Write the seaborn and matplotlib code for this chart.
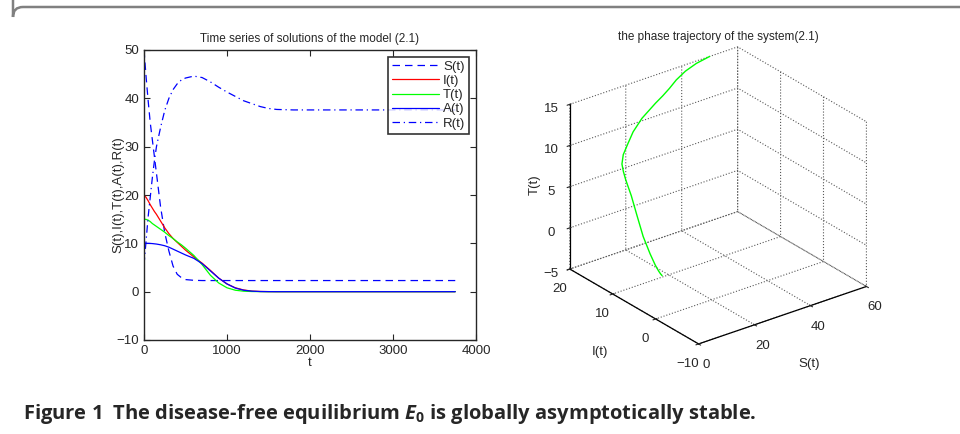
import numpy as np
import pandas as pd
import matplotlib
matplotlib.use('Agg')
import matplotlib.pyplot as plt
import seaborn as sns
from matplotlib.path import Path
from matplotlib.patches import PathPatch

# time points and solution values
t = [0, 25, 50, 75, 100, 125, 150, 200, 250, 300, 350, 400, 450, 500, 600, 700,
     800, 900, 1000, 1100, 1200, 1300, 1400, 1500, 1600, 1800, 2000, 2500, 3000, 3500, 3750]
S = [50, 44.5, 39.5, 35, 31.5, 28, 24.5, 17.5, 12.2, 8.4, 5.3, 3.6, 2.9, 2.5, 2.35, 2.3,
     2.3, 2.3, 2.3, 2.3, 2.3, 2.3, 2.3, 2.3, 2.3, 2.3, 2.3, 2.3, 2.3, 2.3, 2.3]
I = [20, 19.5, 18.8, 18.0, 17.3, 16.6, 16.0, 14.6, 13.2, 12.0, 11.0, 10.2, 9.4, 8.6, 7.2, 5.9,
     4.4, 2.8, 1.6, 0.8, 0.35, 0.12, 0.04, 0.01, 0, 0, 0, 0, 0, 0, 0]
T = [15, 14.95, 14.8, 14.5, 14.1, 13.8, 13.5, 12.9, 12.3, 11.6, 11.0, 10.3, 9.7, 9.0, 7.5, 5.6,
     3.4, 1.8, 0.8, 0.3, 0.1, 0.03, 0.01, 0, 0, 0, 0, 0, 0, 0, 0]
A = [10, 10, 10, 9.98, 9.95, 9.9, 9.85, 9.7, 9.5, 9.2, 8.8, 8.4, 8.0, 7.6, 6.9, 5.8,
     4.3, 2.8, 1.6, 0.75, 0.3, 0.1, 0.03, 0.01, 0, 0, 0, 0, 0, 0, 0]
R = [5.5, 10.5, 15.5, 19.5, 23.5, 27, 30, 34, 37.5, 40, 41.8, 43, 43.8, 44.2, 44.6, 44.3,
     43.4, 42.3, 41.3, 40.4, 39.5, 38.9, 38.3, 37.9, 37.7, 37.6, 37.6, 37.6, 37.6, 37.6, 37.6]

xticks_left = [0, 1000, 2000, 3000, 4000]
yticks_left = [-10, 0, 10, 20, 30, 40, 50]
s_ticks = [0, 20, 40, 60]
i_ticks = [-10, 0, 10, 20]
t_ticks = [-5, 0, 5, 10, 15]

df = pd.DataFrame({'t': t, 'S': S, 'I': I, 'T': T, 'A': A, 'R': R})

sns.set_style('ticks')
plt.rcParams['font.family'] = ['Liberation Sans', 'DejaVu Sans']
plt.rcParams['mathtext.fontset'] = 'custom'
plt.rcParams['mathtext.rm'] = 'Open Sans:bold'
plt.rcParams['mathtext.it'] = 'Open Sans:italic:bold'
plt.rcParams['grid.linestyle'] = ':'
plt.rcParams['grid.color'] = '0.35'
plt.rcParams['grid.linewidth'] = 0.8

W, H = 960.0, 434.0
fig = plt.figure(figsize=(9.6, 4.34), dpi=100)

########## left: time series ##########
ax = fig.add_axes([144/W, 1 - 340/H, 332/W, 290/H])
styles = [('S', 'S(t)', (0, 0, 1), (0, (6, 4))),
          ('I', 'I(t)', (1, 0, 0), '-'),
          ('T', 'T(t)', (0, 1, 0), '-'),
          ('A', 'A(t)', (0, 0, 1), '-'),
          ('R', 'R(t)', (0, 0, 1), (0, (6, 3, 1, 3)))]
for col, lab, c, ls in styles:
    sns.lineplot(data=df, x='t', y=col, ax=ax, color=c, linestyle=ls, linewidth=0.9, label=lab)
ax.set_xlim(0, 4000)
ax.set_ylim(-10, 50)
ax.set_xticks(xticks_left)
ax.set_yticks(yticks_left)
ax.tick_params(direction='in', top=True, right=True, labelsize=9.5, length=4, width=0.8)
for sp in ax.spines.values():
    sp.set_linewidth(1.0)
ax.set_xlabel('t', fontsize=9.5, labelpad=0)
ax.set_ylabel('S(t),I(t),T(t),A(t),R(t)', fontsize=9.5)
ax.yaxis.set_label_coords(-0.06, 0.5)
ax.set_title('Time series of solutions of the model (2.1)', fontsize=8.5, pad=6)
leg = ax.legend(loc='upper right', fontsize=9.5, frameon=True, fancybox=False,
                edgecolor='black', handlelength=3.6, handletextpad=0.3,
                labelspacing=0.15, borderpad=0.3, borderaxespad=0.5)
leg.get_frame().set_linewidth(1.2)

########## right: 3D phase trajectory ##########
side = 341
cx, cy = 713.5, 200
ax3 = fig.add_axes([(cx - side/2)/W, 1 - (cy + side/2)/H, side/W, side/H], projection='3d')
ax3.set_proj_type('ortho')
ax3.plot(S, I, T, color=(0, 1, 0), linewidth=1.0)
ax3.set_xlim(0, 60)
ax3.set_ylim(-10, 20)
ax3.set_zlim(-5, 15)
ax3.set_xticks(s_ticks)
ax3.set_yticks(i_ticks)
ax3.set_zticks(t_ticks)
ax3.set_box_aspect((1, 1, 0.87))
ax3.view_init(elev=26.5, azim=-127.5)
for axis in (ax3.xaxis, ax3.yaxis, ax3.zaxis):
    axis.set_pane_color((1, 1, 1, 0))
    axis.pane.set_edgecolor((1, 1, 1, 0))
    axis.line.set_color('black')
    axis.line.set_linewidth(0.9)
    axis._axinfo['grid'].update(linestyle=':', color='0.35', linewidth=0.8)
ax3.tick_params(labelsize=9.5, pad=0)
ax3.zaxis.set_rotate_label(False)
ax3.set_xlabel('S(t)', fontsize=9.5, labelpad=5)
ax3.set_ylabel('I(t)', fontsize=9.5, labelpad=5)
ax3.set_zlabel('T(t)', fontsize=9.5, rotation=90, labelpad=-6)
fig.text(718/W, 1 - 37/H, 'the phase trajectory of the system(2.1)', fontsize=8.5,
         ha='center', va='center')

########## frame and caption ##########
verts = [(13/W, 1.0), (13/W, 1 - 17/H), (13/W, 1 - 7/H), (23/W, 1 - 7/H), (1.0, 1 - 7/H)]
codes = [Path.MOVETO, Path.LINETO, Path.CURVE3, Path.CURVE3, Path.LINETO]
frame = PathPatch(Path(verts, codes), transform=fig.transFigure, facecolor='none',
                  edgecolor='#808080', linewidth=1.8)
fig.patches.append(frame)

fig.text(23/W, 1 - 419/H,
         r'Figure 1  The disease-free equilibrium $E_0$ is globally asymptotically stable.',
         fontsize=14.5, fontweight='bold', family='Open Sans', va='baseline', ha='left')

fig.savefig('out.png', dpi=100)
